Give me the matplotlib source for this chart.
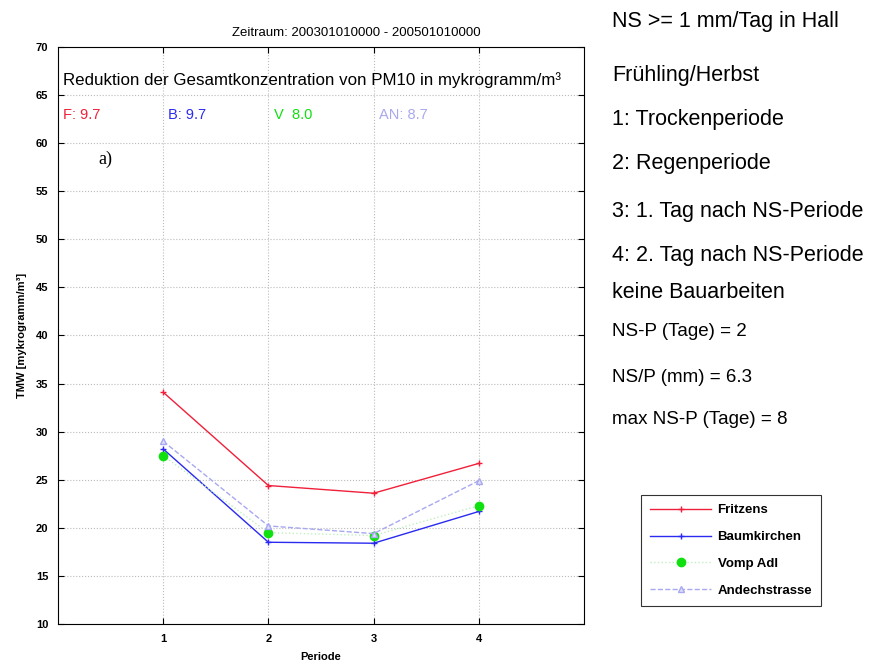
import matplotlib
matplotlib.use('Agg')
import matplotlib.pyplot as plt

plt.rcParams['font.family'] = ['Liberation Sans', 'DejaVu Sans']

# data
perioden = [1, 2, 3, 4]
fritzens = [34.1, 24.4, 23.6, 26.7]
baumkirchen = [28.2, 18.5, 18.4, 21.7]
vomp_adl = [27.5, 19.5, 19.2, 22.3]
andechstrasse = [29.0, 20.2, 19.4, 24.9]

reduktion_labels = ['F: 9.7', 'B: 9.7', 'V  8.0', 'AN: 8.7']
reduktion_x = [0.05, 1.05, 2.05, 3.05]

info_lines = [
    ('NS >= 1 mm/Tag in Hall', 15.5),
    ('Frühling/Herbst', 15.5),
    ('1: Trockenperiode', 15.5),
    ('2: Regenperiode', 15.5),
    ('3: 1. Tag nach NS-Periode', 15.5),
    ('4: 2. Tag nach NS-Periode', 15.5),
    ('keine Bauarbeiten', 15.5),
    ('NS-P (Tage) = 2', 13.5),
    ('NS/P (mm) = 6.3', 13.5),
    ('max NS-P (Tage) = 8', 13.5),
]
info_y = [22, 75, 119, 163, 212, 256, 293, 331, 378, 419]

RED = '#f0203a'
BLUE = '#2a2af0'
GREEN = '#10e010'
LAV = '#a8a8f0'

fig = plt.figure(figsize=(8.9, 6.63), dpi=100)
ax = fig.add_axes([58 / 890, 1 - 624 / 663, (584 - 58) / 890, (624 - 47) / 663])

l1, = ax.plot(perioden, fritzens, color=RED, lw=1.0, marker='+', ms=5, label='Fritzens')
l2, = ax.plot(perioden, baumkirchen, color=BLUE, lw=1.0, marker='+', ms=5, label='Baumkirchen')
l3, = ax.plot(perioden, vomp_adl, color='#c0f0c0', lw=1.0, ls=':', marker='o', ms=6,
              mfc=GREEN, mec=GREEN, label='Vomp Adl')
l4, = ax.plot(perioden, andechstrasse, color=LAV, lw=1.0, ls='--', marker='^', ms=4,
              mfc='#e0e0fa', mec=LAV, label='Andechstrasse')

ax.set_xlim(0, 5)
ax.set_ylim(10, 70)
ax.set_xticks(perioden)
ax.set_yticks(range(10, 71, 5))
ax.tick_params(direction='in', top=True, right=True, labelsize=8, length=4, pad=7)
for lab in ax.get_xticklabels() + ax.get_yticklabels():
    lab.set_fontweight('bold')
ax.grid(True, color='#bbbbbb', ls=':', lw=0.8)
for s in ax.spines.values():
    s.set_linewidth(0.8)
ax.set_xlabel('Periode', fontsize=8, fontweight='bold', labelpad=6)
ax.set_ylabel('TMW [mykrogramm/m³]', fontsize=8, fontweight='bold', labelpad=6)
ax.set_title('Zeitraum: 200301010000 - 200501010000', fontsize=9.5, pad=8,
             x=(356 - 58) / 526)

ax.text(0.05, 66.6, 'Reduktion der Gesamtkonzentration von PM10 in mykrogramm/m³',
        fontsize=12.2, va='center', ha='left')
for txt, xx, c in zip(reduktion_labels, reduktion_x, [RED, BLUE, GREEN, LAV]):
    ax.text(xx, 62.9, txt, color=c, fontsize=10.5, va='center', ha='left')
ax.text(0.38, 58.3, 'a)', fontsize=13, family='Liberation Serif', va='center')

for (txt, fs), yy in zip(info_lines, info_y):
    fig.text(612 / 890, 1 - yy / 663, txt, fontsize=fs, va='center', ha='left')

leg = fig.legend(handles=[l1, l2, l3, l4], loc='upper left',
                 bbox_to_anchor=(641 / 890, 1 - 495 / 663), borderaxespad=0,
                 prop={'size': 9.5, 'weight': 'bold'},
                 frameon=True, fancybox=False, edgecolor='black',
                 handlelength=4.6, handletextpad=0.5, borderpad=0.7, labelspacing=1.1)
leg.get_frame().set_linewidth(0.8)

fig.savefig('out.png', dpi=100)
